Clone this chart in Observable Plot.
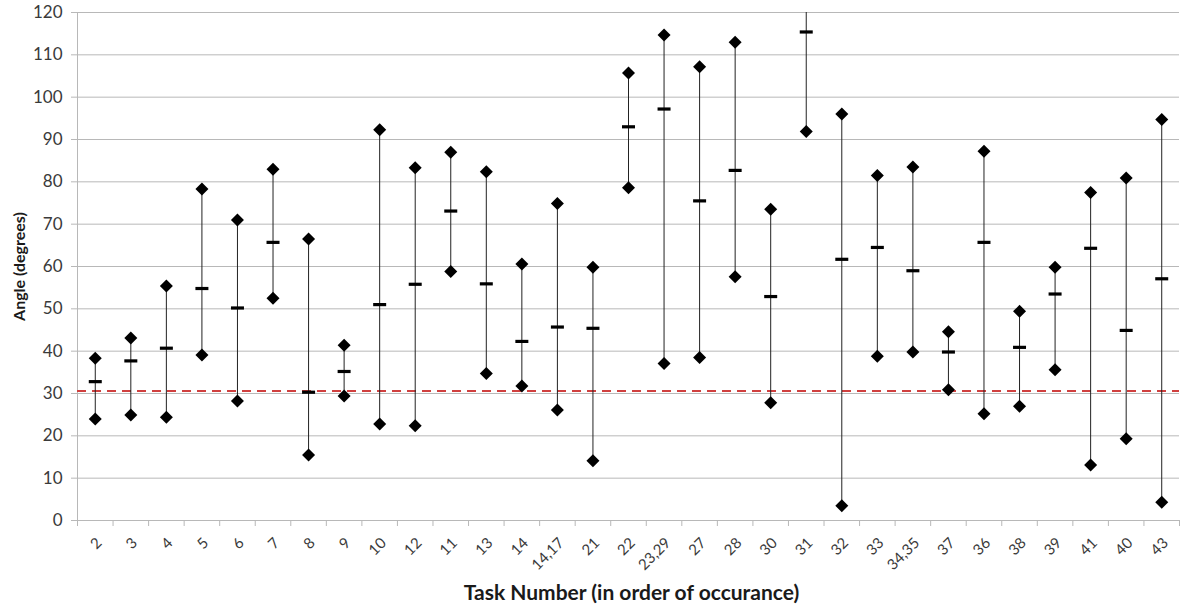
<!DOCTYPE html>
<html>
<head>
<meta charset="utf-8">
<script src="https://cdn.jsdelivr.net/npm/d3@7"></script>
<script src="https://cdn.jsdelivr.net/npm/@observablehq/plot@0.6"></script>
<style>
  html, body { margin: 0; padding: 0; background: #fff; }
  #chart { width: 1180px; height: 616px; }
  g[aria-label="y-axis label"] text { font-weight: bold; font-size: 16px; fill: #1a1a1a; }
</style>
</head>
<body>
<div id="chart"></div>
<script>
const tasks = ["2","3","4","5","6","7","8","9","10","12","11","13","14","14,17","21","22","23,29","27","28","30","31","32","33","34,35","37","36","38","39","41","40","43"];
const highs = [38.3,43.1,55.4,78.3,71.0,83.0,66.5,41.4,92.3,83.3,87.0,82.4,60.6,74.9,59.8,105.7,114.7,107.2,113.0,73.5,126,96.0,81.5,83.5,44.6,87.2,49.4,59.8,77.5,80.9,94.7];
const means = [32.8,37.7,40.7,54.8,50.2,65.7,30.3,35.2,51.0,55.8,73.1,55.9,42.3,45.7,45.4,93.0,97.2,75.5,82.7,52.9,115.4,61.7,64.5,59.0,39.8,65.7,40.9,53.5,64.3,44.9,57.1];
const lows = [24.0,24.9,24.4,39.1,28.2,52.5,15.5,29.4,22.8,22.4,58.8,34.7,31.8,26.1,14.1,78.6,37.1,38.5,57.6,27.8,91.9,3.5,38.8,39.8,30.9,25.2,27.0,35.6,13.1,19.3,4.3];
const reference = [30.6];
const yTicks = d3.range(0, 121, 10);
const xTitle = "Task Number (in order of occurance)";
const yTitle = "Angle (degrees)";

const rows = tasks.map((t, i) => ({task: t, pos: i + 0.5, high: highs[i], mean: means[i], low: lows[i]}));

const diamond = {
  draw(context, size) {
    const h = Math.sqrt(size / Math.PI);
    context.moveTo(0, -h);
    context.lineTo(h, 0);
    context.lineTo(0, h);
    context.lineTo(-h, 0);
    context.closePath();
  }
};
const dash = {
  draw(context, size) {
    const h = Math.sqrt(size / Math.PI);
    context.rect(-h, -1.6, 2 * h, 3.2);
  }
};

const font = "Lato, 'Open Sans', sans-serif";

const chart = Plot.plot({
  width: 1180,
  height: 616,
  marginLeft: 77,
  marginRight: 1,
  marginTop: 12,
  marginBottom: 96,
  style: {fontFamily: font, background: "#fff", overflow: "visible"},
  x: {type: "linear", domain: [0, tasks.length]},
  y: {domain: [0, 120]},
  marks: [
    Plot.gridY(yTicks, {stroke: "#b8b8b8", strokeOpacity: 1, strokeWidth: 1}),
    Plot.ruleX([0], {stroke: "#b8b8b8"}),
    Plot.axisY(yTicks, {tickSize: 6, tickFormat: () => "", stroke: "#b8b8b8",
      label: yTitle, labelAnchor: "center", labelArrow: "none", labelOffset: 64}),
    Plot.text(yTicks, {y: d => d, text: d => String(d), frameAnchor: "left", textAnchor: "end", dx: -15, fontSize: 17, fill: "#3a3a3a"}),
    Plot.axisX(d3.range(0, tasks.length + 1), {tickSize: 6, tickFormat: () => "", stroke: "#b8b8b8", label: null}),
    Plot.text(rows, {x: "pos", text: "task", frameAnchor: "bottom", rotate: -45, textAnchor: "end", lineAnchor: "middle",
      dx: 4, dy: 20, fontSize: 15, fill: "#3a3a3a"}),
    Plot.ruleY(reference, {stroke: "#d0403f", strokeWidth: 2, strokeDasharray: "9,6"}),
    Plot.ruleX(rows, {x: "pos", y1: "low", y2: "high", stroke: "#222", strokeWidth: 1, clip: true}),
    Plot.dot(rows, {x: "pos", y: "high", symbol: diamond, r: 6.5, fill: "#000", stroke: "none", clip: true}),
    Plot.dot(rows, {x: "pos", y: "low", symbol: diamond, r: 6.5, fill: "#000", stroke: "none", clip: true}),
    Plot.dot(rows, {x: "pos", y: "mean", symbol: dash, r: 6.5, fill: "#000", stroke: "none", clip: true}),
    Plot.text([xTitle], {frameAnchor: "bottom", dy: 79, dx: 3, fontSize: 21, fontWeight: "bold", fill: "#1a1a1a"})
  ]
});
document.getElementById("chart").append(chart);
</script>
</body>
</html>
